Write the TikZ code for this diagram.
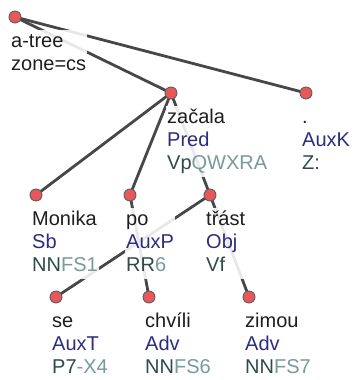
\documentclass[tikz,border=0pt]{standalone}
\usepackage{fontspec}
\setmainfont{Liberation Sans}
\usepackage{tikz}
\usetikzlibrary{positioning,backgrounds}
\definecolor{uzelbarva}{HTML}{E8585A}
\definecolor{okrajbarva}{HTML}{5E5E5E}
\definecolor{hranabarva}{HTML}{474747}
\definecolor{slovobarva}{HTML}{1E1E1E}
\definecolor{afunbarva}{HTML}{2C2C80}
\definecolor{tagbarva}{HTML}{2F4A4A}
\definecolor{tagsvetla}{HTML}{789A9A}
\newcommand{\afun}[1]{\textcolor{afunbarva}{#1}}
\newcommand{\znacka}[2]{\textcolor{tagbarva}{#1}\textcolor{tagsvetla}{#2}}
\tikzstyle{uzel} = [circle, draw=okrajbarva, fill=uzelbarva, line width=0.9pt, inner sep=0pt, minimum size=12pt]
\tikzstyle{hrana} = [draw=hranabarva, line width=2.8pt]
\tikzstyle{popis} = [below right=13pt and -5pt, align=left, inner sep=1pt, fill=white, fill opacity=0.88, text opacity=1, text=slovobarva, font=\fontsize{20}{23}\selectfont]

\begin{document}
\begin{tikzpicture}[x=1pt, y=-1pt]
					\useasboundingbox (0,0) rectangle (353,380);
					\node [uzel] (koren) at (15,17) {};
					\node [uzel] (zacala) at (171,93) {};
					\node [uzel] (tecka) at (306,93) {};
					\node [uzel] (monika) at (36,195) {};
					\node [uzel] (po) at (130,195) {};
					\node [uzel] (trast) at (210,195) {};
					\node [uzel] (se) at (56,297) {};
					\node [uzel] (chvili) at (149,297) {};
					\node [uzel] (zimou) at (249,297) {};
					\begin{scope}[on background layer]
					\draw [hrana] (koren.center) -- (zacala.center);
					\draw [hrana] (koren.center) -- (tecka.center);
					\draw [hrana] (zacala.center) -- (monika.center);
					\draw [hrana] (zacala.center) -- (po.center);
					\draw [hrana] (zacala.center) -- (trast.center);
					\draw [hrana] (trast.center) -- (se.center);
					\draw [hrana] (po.center) -- (chvili.center);
					\draw [hrana] (trast.center) -- (zimou.center);
					\end{scope}
					\node [popis] (korenpopis) at (koren) {\strut a-tree\\\strut zone=cs};
					\node [popis] (zacalapopis) at (zacala) {\strut začala\\\strut\afun{Pred}\\\strut\znacka{Vp}{QWXRA}};
					\node [popis] (teckapopis) at (tecka) {\strut .\\\strut\afun{AuxK}\\\strut\znacka{Z:}{}};
					\node [popis] (monikapopis) at (monika) {\strut Monika\\\strut\afun{Sb}\\\strut\znacka{NN}{FS1}};
					\node [popis] (popopis) at (po) {\strut po\\\strut\afun{AuxP}\\\strut\znacka{RR}{6}};
					\node [popis] (trastpopis) at (trast) {\strut třást\\\strut\afun{Obj}\\\strut\znacka{Vf}{}};
					\node [popis] (sepopis) at (se) {\strut se\\\strut\afun{AuxT}\\\strut\znacka{P7}{-X4}};
					\node [popis] (chvilipopis) at (chvili) {\strut chvíli\\\strut\afun{Adv}\\\strut\znacka{NN}{FS6}};
					\node [popis] (zimoupopis) at (zimou) {\strut zimou\\\strut\afun{Adv}\\\strut\znacka{NN}{FS7}};
\end{tikzpicture}
\end{document}
